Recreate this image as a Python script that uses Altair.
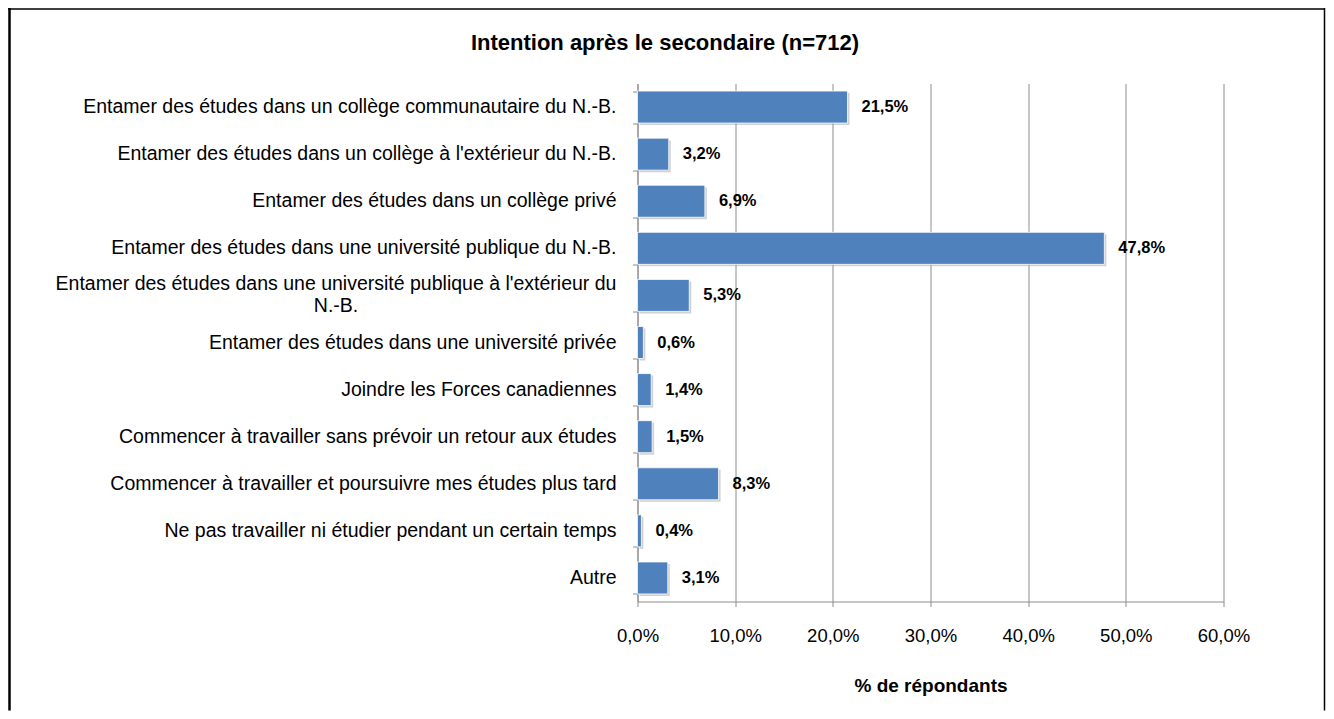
import altair as alt
import pandas as pd

categories = [
    "Entamer des études dans un collège communautaire du N.-B.",
    "Entamer des études dans un collège à l'extérieur du N.-B.",
    "Entamer des études dans un collège privé",
    "Entamer des études dans une université publique du N.-B.",
    "Entamer des études dans une université publique à l'extérieur du N.-B.",
    "Entamer des études dans une université privée",
    "Joindre les Forces canadiennes",
    "Commencer à travailler sans prévoir un retour aux études",
    "Commencer à travailler et poursuivre mes études plus tard",
    "Ne pas travailler ni étudier pendant un certain temps",
    "Autre",
]
values = [21.5, 3.2, 6.9, 47.8, 5.3, 0.6, 1.4, 1.5, 8.3, 0.4, 3.1]
x_ticks = [0, 10, 20, 30, 40, 50, 60]
chart_title = "Intention après le secondaire (n=712)"
x_title = "% de répondants"

df = pd.DataFrame({"categorie": categories, "pourcentage": values})

FONT = "Liberation Sans"
W, H = 586, 518
PAD_L, PAD_T, PAD_R, PAD_B = 629.5, 75.5, 102, 109
GRID = "#8c8c8c"
BLUE = "#4F81BD"

y_enc = alt.Y(
    "categorie:N",
    sort=categories,
    title=None,
    scale=alt.Scale(paddingInner=0.32, paddingOuter=0.16),
    axis=alt.Axis(
        labels=False,
        tickBand="extent",
        tickSize=5,
        tickColor=GRID,
        domainColor=GRID,
        grid=False,
    ),
)

x_enc = alt.X(
    "pourcentage:Q",
    scale=alt.Scale(domain=[0, 60], nice=False),
    title=x_title,
    axis=alt.Axis(
        values=x_ticks,
        labelExpr="replace(format(datum.value, '.1f'), '.', ',') + '%'",
        labelFont=FONT,
        labelFontSize=18.5,
        labelColor="#000000",
        labelBaseline="middle",
        labelPadding=28.5,
        labelFlush=False,
        tickSize=5,
        tickColor=GRID,
        domainColor=GRID,
        grid=True,
        gridColor=GRID,
        gridWidth=1,
        titleFont=FONT,
        titleFontSize=19,
        titleFontWeight="bold",
        titleColor="#000000",
        titleBaseline="middle",
        titleY=83.5,
    ),
)

base = alt.Chart(df)

shadow = base.mark_bar(color="#9a9a9a", opacity=0.45, xOffset=2, x2Offset=2, yOffset=2).encode(
    y=y_enc, x=x_enc
)

bars = base.mark_bar(color=BLUE, stroke="#ffffff", strokeWidth=0.8).encode(y=y_enc, x=x_enc)

values_text = base.transform_calculate(
    txt="replace(format(datum.pourcentage, '.1f'), '.', ',') + '%'"
).mark_text(
    align="left", baseline="middle", dx=14, font=FONT, fontSize=16.5, fontWeight="bold", color="#000000"
).encode(y=alt.Y("categorie:N", sort=categories), x="pourcentage:Q", text="txt:N")

cat_text = base.transform_calculate(
    lbl=(
        "length(datum.categorie) > 65 ? "
        "[slice(datum.categorie, 0, lastindexof(datum.categorie, ' ')), "
        "slice(datum.categorie, lastindexof(datum.categorie, ' ') + 1)] : datum.categorie"
    )
).mark_text(
    align=alt.expr("length(datum.categorie) > 65 ? 'center' : 'right'"),
    dx=alt.expr("length(datum.categorie) > 65 ? -280.5 : 0"),
    dy=alt.expr("length(datum.categorie) > 65 ? -11 : 0"),
    baseline="middle",
    lineHeight=22,
    font=FONT,
    fontSize=19.5,
    color="#000000",
).encode(y=alt.Y("categorie:N", sort=categories), x=alt.value(-21), text="lbl:N")

title_mark = alt.Chart(pd.DataFrame({"t": [chart_title]})).mark_text(
    align="center", baseline="middle", font=FONT, fontSize=22, fontWeight="bold", color="#000000"
).encode(x=alt.value(27.5), y=alt.value(-40.5), text="t:N")

frame_df = pd.DataFrame({"f": [0]})
frame_left = alt.Chart(frame_df).mark_rule(color="#000000", strokeWidth=2.5).encode(
    x=alt.value(-PAD_L + 1.5), y=alt.value(-PAD_T), y2=alt.value(H + PAD_B)
)
frame_top = alt.Chart(frame_df).mark_rule(color="#000000", strokeWidth=1.5).encode(
    x=alt.value(-PAD_L), x2=alt.value(W + PAD_R - 1), y=alt.value(-PAD_T + 1)
)
frame_right = alt.Chart(frame_df).mark_rule(color="#000000", strokeWidth=1.5).encode(
    x=alt.value(W + PAD_R - 1), y=alt.value(-PAD_T), y2=alt.value(H + PAD_B)
)

chart = alt.layer(
    shadow, bars, values_text, cat_text, title_mark, frame_left, frame_top, frame_right
).properties(
    width=W,
    height=H,
    padding={"left": PAD_L, "top": PAD_T, "right": PAD_R, "bottom": PAD_B},
    autosize=alt.AutoSizeParams(type="none"),
    background="#ffffff",
).configure_view(stroke=None)

chart.save("out.html", embed_options={"renderer": "svg", "actions": False})
